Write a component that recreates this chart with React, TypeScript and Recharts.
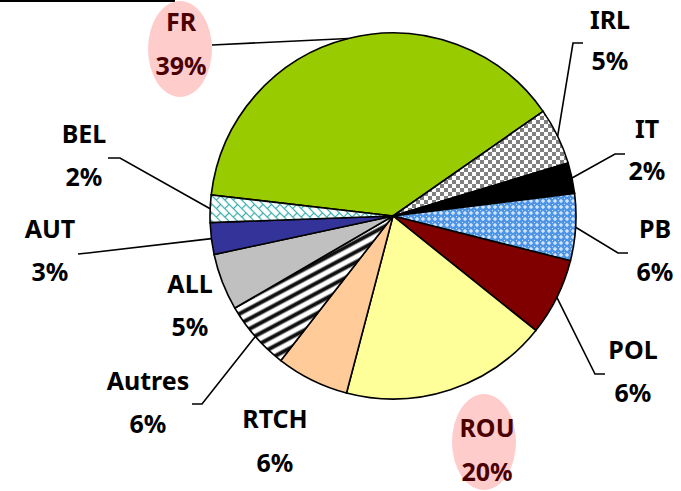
import React from "react";
import { PieChart, Pie, Cell } from "recharts";

// Data
const countries = ["FR", "IRL", "IT", "PB", "POL", "ROU", "RTCH", "Autres", "ALL", "AUT", "BEL"];
const shares = [38.4, 5.0, 2.7, 5.9, 6.8, 18.3, 6.4, 6.1, 5.0, 2.8, 2.4];
const percentLabels = ["39%", "5%", "2%", "6%", "6%", "20%", "6%", "6%", "5%", "3%", "2%"];
const highlighted = ["FR", "ROU"];

const data = countries.map((name, i) => ({ name, value: shares[i], pct: percentLabels[i] }));

// Styles
const fills: Record<string, string> = {
  FR: "#99CC00",
  IRL: "url(#pIRL)",
  IT: "#000000",
  PB: "url(#pPB)",
  POL: "#800000",
  ROU: "#FFFF99",
  RTCH: "#FFCC99",
  Autres: "url(#pAutres)",
  ALL: "#C0C0C0",
  AUT: "#333399",
  BEL: "url(#pBEL)",
};

// Label layout: offsets from pie centre (x, y of each text line), optional leader stub
type Lay = { x: number; y1: number; y2: number; stub?: [number, number, number, number]; ellipse?: [number, number] };
const CX = 393;
const CY = 216;
const abs = (x: number, y1: number, y2: number, stub?: [number, number, number, number], ellipse?: [number, number]): Lay => ({
  x: x - CX,
  y1: y1 - CY,
  y2: y2 - CY,
  stub: stub ? [stub[0] - CX, stub[1] - CY, stub[2] - CX, stub[3] - CY] : undefined,
  ellipse: ellipse ? [ellipse[0] - CX, ellipse[1] - CY] : undefined,
});
const labelLayout: Record<string, Lay> = {
  FR: abs(181, 22, 66, [212, 45, 212, 45], [180, 49]),
  IRL: abs(610, 20, 61, [583, 43, 573, 43]),
  IT: abs(647, 129, 171, [625, 154, 615, 154]),
  PB: abs(655, 229, 272, [628, 253, 618, 253]),
  POL: abs(633, 349.5, 393, [605, 374, 595, 374]),
  ROU: abs(487, 427.5, 472, undefined, [484, 442]),
  RTCH: abs(275, 419, 463),
  Autres: abs(148, 381, 424, [192, 404, 202, 404]),
  ALL: abs(190, 284, 327),
  AUT: abs(50, 229, 272, [78, 254, 88, 253]),
  BEL: abs(84, 134, 177, [108, 158, 120, 158]),
};

const FONT = "'Noto Sans', 'DejaVu Sans', sans-serif";
const RAD = Math.PI / 180;

const renderLabel = (props: any) => {
  const { cx, cy, midAngle, outerRadius, name, payload } = props;
  const lay = labelLayout[name];
  if (!lay) return null;
  const hi = highlighted.includes(name);
  const color = hi ? "#4a0000" : "#000000";
  const ex = cx + outerRadius * Math.cos(-midAngle * RAD);
  const ey = cy + outerRadius * Math.sin(-midAngle * RAD);
  const base = 9;
  return (
    <g>
      {lay.ellipse && (
        <ellipse cx={cx + lay.ellipse[0]} cy={cy + lay.ellipse[1]} rx={32} ry={48} fill="#FFCCCC" />
      )}
      {lay.stub && (
        <polyline
          points={`${cx + lay.stub[0]},${cy + lay.stub[1]} ${cx + lay.stub[2]},${cy + lay.stub[3]} ${ex},${ey}`}
          fill="none"
          stroke="#000"
          strokeWidth={1.6}
        />
      )}
      <text x={cx + lay.x} y={cy + lay.y1 + base} textAnchor="middle" fontFamily={FONT} fontWeight={700} fontSize={25} fill={color}>
        {name}
      </text>
      <text x={cx + lay.x} y={cy + lay.y2 + base} textAnchor="middle" fontFamily={FONT} fontWeight={700} fontSize={25} fill={color}>
        {payload?.pct ?? ""}
      </text>
    </g>
  );
};

export default function App() {
  return (
    <div style={{ position: "absolute", left: 0, top: 0, width: 681, height: 491, background: "#fff", overflow: "hidden" }}>
      <svg width={0} height={0} style={{ position: "absolute" }}>
        <defs>
          <pattern id="pIRL" width={8} height={8} patternUnits="userSpaceOnUse">
            <rect width={8} height={8} fill="#fff" />
            <rect x={0} y={0} width={4} height={4} fill="#808080" />
            <rect x={4} y={4} width={4} height={4} fill="#808080" />
          </pattern>
          <pattern id="pPB" width={6} height={6} patternUnits="userSpaceOnUse">
            <rect width={6} height={6} fill="#4F95E6" />
            <rect x={2.5} y={1} width={1} height={4} fill="#fff" />
            <rect x={1} y={2.5} width={4} height={1} fill="#fff" />
            <rect x={0} y={0} width={1} height={1} fill="#cfe3fa" />
          </pattern>
          <pattern id="pAutres" width={9} height={9} patternUnits="userSpaceOnUse" patternTransform="rotate(-28)">
            <rect width={9} height={9} fill="#fff" />
            <rect x={0} y={0} width={9} height={1} fill="#8a8a8a" />
            <rect x={0} y={1} width={9} height={3} fill="#111" />
            <rect x={0} y={4} width={9} height={1} fill="#8a8a8a" />
          </pattern>
          <pattern id="pBEL" width={12} height={12} patternUnits="userSpaceOnUse" patternTransform="rotate(45)">
            <rect width={12} height={12} fill="#fff" />
            <line x1={0} y1={0.5} x2={12} y2={0.5} stroke="#33AAAA" strokeWidth={1.2} />
            <line x1={0.5} y1={0} x2={0.5} y2={6} stroke="#33AAAA" strokeWidth={1.2} />
            <line x1={0} y1={6.5} x2={12} y2={6.5} stroke="#33AAAA" strokeWidth={1.2} />
            <line x1={6.5} y1={6} x2={6.5} y2={12} stroke="#33AAAA" strokeWidth={1.2} />
          </pattern>
        </defs>
      </svg>
      <div style={{ position: "absolute", left: 0, top: 0, width: 175, height: 2, background: "#000" }} />
      <PieChart width={681} height={491} margin={{ top: 0, right: 0, bottom: 0, left: 0 }}>
        <Pie
          data={data}
          dataKey="value"
          nameKey="name"
          cx={CX}
          cy={CY}
          outerRadius={183}
          startAngle={173.4}
          endAngle={-186.6}
          stroke="#000"
          strokeWidth={1.6}
          isAnimationActive={false}
          label={renderLabel}
          labelLine={false}
        >
          {data.map((d) => (
            <Cell key={d.name} fill={fills[d.name]} />
          ))}
        </Pie>
      </PieChart>
    </div>
  );
}
